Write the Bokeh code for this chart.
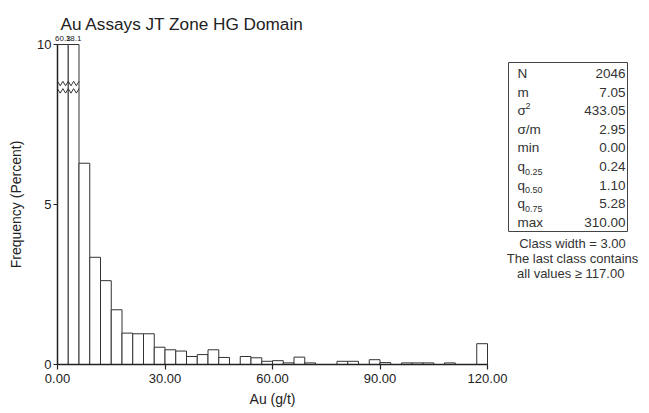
import numpy as np
from bokeh.plotting import figure
from bokeh.models import Range1d, FixedTicker, ColumnDataSource
from bokeh.embed import file_html
from bokeh.resources import INLINE
from bokeh.core.properties import value

# ---------------- data ----------------
title_text = "Au Assays JT Zone HG Domain"
x_label = "Au (g/t)"
y_label = "Frequency (Percent)"
class_width = 3.0
bin_start = 0.0
freq = [60.3, 18.1, 6.29, 3.35, 2.62, 1.71, 0.98, 0.96, 0.96, 0.54,
        0.46, 0.42, 0.25, 0.31, 0.46, 0.22, 0.0, 0.25, 0.21, 0.10,
        0.12, 0.05, 0.23, 0.05, 0.0, 0.0, 0.10, 0.10, 0.0, 0.15,
        0.06, 0.0, 0.05, 0.05, 0.05, 0.0, 0.05, 0.0, 0.0, 0.65]
y_cap = 10.0
x_ticks = [0, 30, 60, 90, 120]
x_tick_labels = ["0.00", "30.00", "60.00", "90.00", "120.00"]
y_ticks = [0, 5, 10]
y_tick_labels = ["0", "5", "10"]
stat_names = ["N", "m", "σ", "σ/m", "min", "q", "q", "q", "max"]
stat_sup = ["", "", "2", "", "", "", "", "", ""]
stat_sub = ["", "", "", "", "", "0.25", "0.50", "0.75", ""]
stat_values = ["2046", "7.05", "433.05", "2.95", "0.00", "0.24", "1.10", "5.28", "310.00"]
notes = ["Class width = 3.00", "The last class contains", "all values \u2265  117.00"]

# ---------------- layout helpers (page pixels -> data) ----------------
W, H = 649, 413
X0_PX, Y0_PX = 57.0, 364.0          # page position of the data origin
PX_X = 430.0 / 120.0                # pixels per g/t
PX_Y = 32.0                         # pixels per percent

def dx(page_x):
    return (page_x - X0_PX) / PX_X

def dy(page_y):
    return (Y0_PX - page_y) / PX_Y

FONT = "Liberation Sans"
INK = "#222222"
TXT = "#333333"

p = figure(width=W, height=H, output_backend="svg", toolbar_location=None,
           x_range=Range1d(dx(0), dx(W)), y_range=Range1d(dy(H), dy(0)),
           min_border_left=0, min_border_right=0, min_border_top=0,
           min_border_bottom=0)
p.outline_line_color = None
p.xgrid.visible = False
p.ygrid.visible = False
p.background_fill_color = "white"
p.border_fill_color = "white"

# bars
edges = bin_start + class_width * np.arange(len(freq) + 1)
f = np.array(freq)
src = ColumnDataSource(dict(left=edges[:-1], right=edges[1:],
                            top=np.minimum(f, y_cap), bottom=np.zeros_like(f)))
p.quad(left="left", right="right", top="top", bottom="bottom", source=src,
       fill_color="white", line_color="#333333", line_width=1)

# break marks on truncated bars and their values
over = np.where(f > y_cap)[0]
if len(over):
    xa, xb = edges[over[0]], edges[over[-1] + 1]
    zx = np.linspace(xa, xb, 9)
    sign = np.array([(-1) ** i for i in range(9)])
    for base in (8.78, 8.55):
        p.line(zx, base + 0.07 * sign, line_color="#333333", line_width=1)
    cx = (edges[:-1][over] + edges[1:][over]) / 2
    p.text(x=cx, y=[y_cap + 0.12] * len(over), text=[f"{v:.1f}" for v in f[over]],
           text_font=value(FONT), text_font_size="8px", text_color=INK,
           text_align="center", text_baseline="bottom")

# title
p.text(x=[dx(60)], y=[dy(23)], text=[title_text], text_font=value(FONT),
       text_font_size="17.2px", text_color=INK, text_align="left",
       text_baseline="alphabetic")

# axes (fixed at the data origin)
p.xaxis.fixed_location = 0
p.yaxis.fixed_location = 0
p.xaxis.ticker = FixedTicker(ticks=x_ticks)
p.xaxis.major_label_overrides = {t: l for t, l in zip(x_ticks, x_tick_labels)}
p.xaxis.bounds = (x_ticks[0], x_ticks[-1])
p.yaxis.ticker = FixedTicker(ticks=y_ticks)
p.yaxis.major_label_overrides = {t: l for t, l in zip(y_ticks, y_tick_labels)}
p.yaxis.bounds = (y_ticks[0], y_ticks[-1])
for ax in (p.xaxis, p.yaxis):
    ax.axis_line_color = INK
    ax.axis_line_width = 1.5
    ax.major_tick_line_color = INK
    ax.major_tick_line_width = 1.2
    ax.minor_tick_line_color = None
    ax.major_tick_in = 0
    ax.major_label_text_font = FONT
    ax.major_label_text_font_size = "13px"
    ax.major_label_text_color = INK
p.xaxis.major_tick_out = 5
p.xaxis.major_label_standoff = 4
p.yaxis.major_tick_out = 4
p.yaxis.major_label_standoff = 2

# axis titles
p.text(x=[60], y=[dy(398)], text=[x_label], text_font=value(FONT),
       text_font_size="14px", text_color=INK, text_align="center",
       text_baseline="middle")
p.text(x=[dx(15)], y=[5], text=[y_label], angle=np.pi / 2, text_font=value(FONT),
       text_font_size="14px", text_color=INK, text_align="center",
       text_baseline="middle")

# stats box
p.quad(left=[dx(508)], right=[dx(627)], top=[dy(62)], bottom=[dy(231)],
       fill_color="white", line_color="#444444", line_width=1)
row_y = [dy(73 + 18.6 * i) for i in range(len(stat_names))]
p.text(x=[dx(517)] * len(stat_names), y=row_y, text=stat_names,
       text_font=value(FONT), text_font_size="13.5px", text_color=TXT,
       text_align="left", text_baseline="middle")
p.text(x=[dx(625)] * len(stat_values), y=row_y, text=stat_values,
       text_font=value(FONT), text_font_size="13.5px", text_color=TXT,
       text_align="right", text_baseline="middle")
sup_idx = [i for i, s in enumerate(stat_sup) if s]
p.text(x=[dx(525)] * len(sup_idx), y=[row_y[i] + 5 / PX_Y for i in sup_idx],
       text=[stat_sup[i] for i in sup_idx], text_font=value(FONT),
       text_font_size="9px", text_color=TXT, text_align="left",
       text_baseline="middle")
sub_idx = [i for i, s in enumerate(stat_sub) if s]
p.text(x=[dx(524.5)] * len(sub_idx), y=[row_y[i] - 5 / PX_Y for i in sub_idx],
       text=[stat_sub[i] for i in sub_idx], text_font=value(FONT),
       text_font_size="9px", text_color=TXT, text_align="left",
       text_baseline="middle")

# notes below the box
p.text(x=[dx(572)] * len(notes), y=[dy(243 + 15 * i) for i in range(len(notes))],
       text=notes, text_font=value(FONT), text_font_size="13px",
       text_color=TXT, text_align="center", text_baseline="middle")

open("out.html", "w").write(file_html(p, INLINE))
